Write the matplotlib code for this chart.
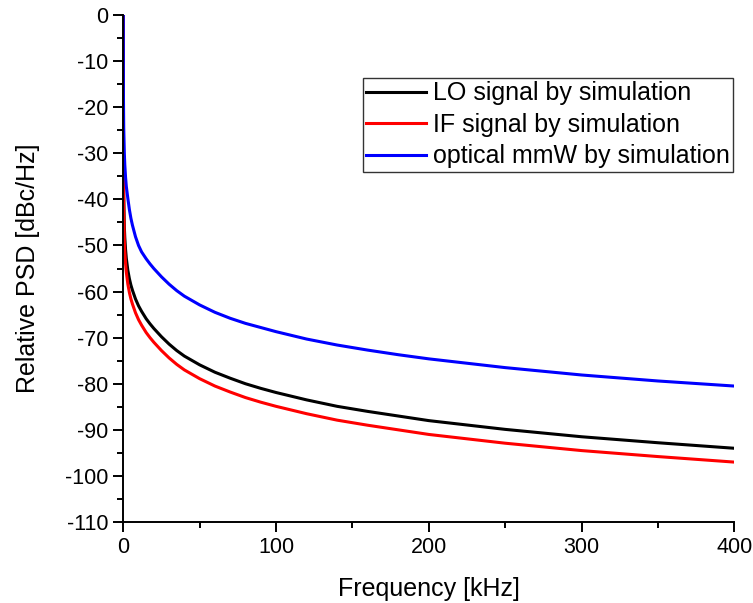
import matplotlib
matplotlib.use("Agg")
import matplotlib.pyplot as plt
from matplotlib.ticker import MultipleLocator

plt.rcParams['font.family'] = ['Liberation Sans', 'DejaVu Sans']
plt.rcParams['axes.unicode_minus'] = False

freq_khz = [0, 0.1, 0.3, 0.7, 1, 1.5, 2, 3, 4, 5, 6, 8, 10, 12, 15, 17.5, 20,
            25, 30, 35, 40, 50, 60, 70, 80, 90, 100, 120, 140, 160, 180, 200,
            250, 300, 350, 400]
lo_signal = [0, -28, -39, -46, -48.3, -50.9, -52.8, -55.4, -57.2, -58.6, -59.7,
             -61.6, -63.1, -64.3, -65.9, -67.0, -68.0, -69.8, -71.4, -72.8,
             -74.0, -75.9, -77.5, -78.8, -80.0, -81.0, -81.9, -83.5, -84.9,
             -86.0, -87.0, -88.0, -89.9, -91.5, -92.8, -94.0]
if_signal = [0, -31, -42, -49, -51.3, -53.9, -55.8, -58.4, -60.2, -61.6, -62.7,
             -64.6, -66.1, -67.3, -68.9, -70.0, -71.0, -72.8, -74.4, -75.8,
             -77.0, -78.9, -80.5, -81.8, -83.0, -84.0, -84.9, -86.5, -87.9,
             -89.0, -90.0, -91.0, -92.9, -94.5, -95.8, -97.0]
mmw_signal = [0, -17, -24.5, -30, -32.5, -35.2, -37.2, -39.8, -42.2, -44.1,
              -45.6, -48.1, -50.0, -51.4, -52.9, -54.0, -55.0, -56.8, -58.4,
              -59.8, -61.0, -62.9, -64.5, -65.8, -66.9, -67.8, -68.7, -70.3,
              -71.6, -72.7, -73.7, -74.6, -76.5, -78.1, -79.4, -80.5]
labels = ["LO signal by simulation", "IF signal by simulation",
          "optical mmW by simulation"]
colors = ["black", "red", "blue"]

fig = plt.figure(figsize=(7.53, 6.03), dpi=100)
ax = fig.add_axes([0.1637, 0.1343, 0.8115, 0.8408])

for y, lab, c in zip([lo_signal, if_signal, mmw_signal], labels, colors):
    ax.plot(freq_khz, y, color=c, lw=2.2, label=lab)

ax.set_xlim(0, 400)
ax.set_ylim(-110, 0)
ax.xaxis.set_major_locator(MultipleLocator(100))
ax.xaxis.set_minor_locator(MultipleLocator(50))
ax.yaxis.set_major_locator(MultipleLocator(10))
ax.yaxis.set_minor_locator(MultipleLocator(5))

for s in ['top', 'right']:
    ax.spines[s].set_visible(False)
for s in ['left', 'bottom']:
    ax.spines[s].set_linewidth(1.4)

ax.tick_params(axis='both', which='major', direction='out', length=7, width=1.4,
               labelsize=15.5, pad=3.5)
ax.tick_params(axis='both', which='minor', direction='out', length=4, width=1.4)

ax.set_xlabel("Frequency [kHz]", fontsize=18, labelpad=14)
ax.set_ylabel("Relative PSD [dBc/Hz]", fontsize=18, labelpad=18)

leg = ax.legend(loc='upper left', bbox_to_anchor=(0.392, 0.876), fontsize=18,
                frameon=True, fancybox=False, edgecolor='black',
                handlelength=2.4, handletextpad=0.25, borderpad=0.14,
                labelspacing=0.3, borderaxespad=0)
leg.get_frame().set_linewidth(1.0)

fig.savefig("out.png", dpi=100)
